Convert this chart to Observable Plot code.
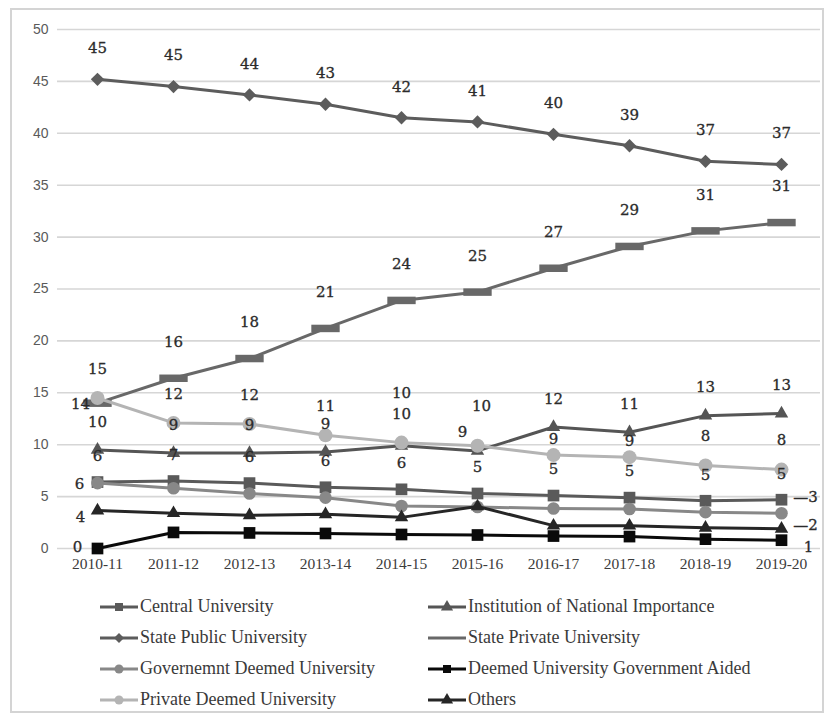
<!DOCTYPE html>
<html>
<head>
<meta charset="utf-8">
<script src="https://cdn.jsdelivr.net/npm/d3@7"></script>
<script src="https://cdn.jsdelivr.net/npm/@observablehq/plot@0.6"></script>
<style>
  body { margin: 0; background: #fff; }
  #chart { position: relative; width: 827px; height: 720px; overflow: hidden; }
  #frame { position: absolute; left: 10px; top: 8px; width: 814px; height: 705px;
           border: 2px solid #d4d4d4; box-sizing: border-box; pointer-events: none; }
  #plot { position: absolute; left: 0; top: 0; }
  #legend { position: absolute; left: 100px; top: 591px; display: grid;
            grid-template-columns: 328px 340px; grid-auto-rows: 31px; align-items: center;
            font-family: "Liberation Serif", "Times New Roman", serif; font-size: 18px; color: #3a3a3a; }
  .item { display: flex; align-items: center; white-space: nowrap; }
  .item svg { margin-right: 2px; }
</style>
</head>
<body>
<div id="chart">
  <div id="plot"></div>
  <div id="legend"></div>
  <div id="frame"></div>
</div>
<script>
// Academic years on the x axis
const years = ["2010-11", "2011-12", "2012-13", "2013-14", "2014-15",
               "2015-16", "2016-17", "2017-18", "2018-19", "2019-20"];

// Share of universities by type (per cent)
const centralUniversity       = [6.4, 6.5, 6.3, 5.9, 5.7, 5.3, 5.1, 4.9, 4.6, 4.7];
const nationalImportance      = [9.5, 9.2, 9.2, 9.3, 9.9, 9.4, 11.7, 11.2, 12.8, 13.0];
const statePublicUniversity   = [45.2, 44.5, 43.7, 42.8, 41.5, 41.1, 39.9, 38.8, 37.3, 37.0];
const statePrivateUniversity  = [14.0, 16.4, 18.3, 21.2, 23.9, 24.7, 27.0, 29.1, 30.6, 31.4];
const governmentDeemed        = [6.3, 5.8, 5.3, 4.9, 4.1, 4.0, 3.85, 3.8, 3.5, 3.4];
const deemedGovernmentAided   = [0, 1.55, 1.5, 1.45, 1.35, 1.3, 1.2, 1.15, 0.9, 0.8];
const privateDeemedUniversity = [14.5, 12.1, 12.0, 10.9, 10.2, 9.9, 9.0, 8.8, 8.0, 7.6];
const others                  = [3.65, 3.4, 3.2, 3.3, 3.0, 4.05, 2.2, 2.2, 2.0, 1.9];

const seriesNames = [
  "Central University", "Institution of National Importance",
  "State Public University", "State Private University",
  "Governemnt Deemed University", "Deemed University Government Aided",
  "Private Deemed University", "Others"
];
const seriesValues = [
  centralUniversity, nationalImportance, statePublicUniversity, statePrivateUniversity,
  governmentDeemed, deemedGovernmentAided, privateDeemedUniversity, others
];

const yTicks = [0, 5, 10, 15, 20, 25, 30, 35, 40, 45, 50];

// Wide flat marker used by the State Private series
const dashSymbol = {
  draw(context, size) {
    const w = Math.sqrt(size) * 1.25, h = Math.sqrt(size) * 0.33;
    context.moveTo(-w, -h); context.lineTo(w, -h); context.lineTo(w, h); context.lineTo(-w, h);
    context.closePath();
  }
};

// Look of each series: colour, marker and marker radius
const styles = {
  "Central University":                 {color: "#5a5a5a", symbol: "square",   r: 6.6},
  "Institution of National Importance": {color: "#555555", symbol: "triangle", r: 5},
  "State Public University":            {color: "#5c5c5c", symbol: "diamond2", r: 6},
  "State Private University":           {color: "#686868", symbol: dashSymbol, r: 6.4},
  "Governemnt Deemed University":       {color: "#888888", symbol: "circle",   r: 6.3},
  "Deemed University Government Aided": {color: "#0a0a0a", symbol: "square",   r: 6.6},
  "Private Deemed University":          {color: "#b4b4b4", symbol: "circle",   r: 7},
  "Others":                             {color: "#262626", symbol: "triangle", r: 5}
};

const rows = seriesNames.flatMap((name, s) =>
  seriesValues[s].map((value, i) => ({series: name, year: years[i], index: i, value})));
const bySeries = name => rows.filter(d => d.series === name);

const fmt = d3.format(".0f");
const labelFont = {fontFamily: "DejaVu Serif", fontSize: 15, fill: "#2b2b2b",
                   stroke: "#2b2b2b", strokeWidth: 0.3,
                   text: d => fmt(d.value), x: "year", y: "value"};
const label = (name, filter, opts) =>
  Plot.text(bySeries(name).filter(filter), {...labelFont, ...opts});

const seriesMarks = seriesNames.flatMap(name => {
  const st = styles[name];
  return [
    Plot.line(bySeries(name), {x: "year", y: "value", stroke: st.color, strokeWidth: 3,
                               strokeLinejoin: "round"}),
    Plot.dot(bySeries(name), {x: "year", y: "value", symbol: st.symbol, r: st.r,
                              fill: st.color, stroke: "none"})
  ];
});

const all = () => true;
const labelMarks = [
  label("State Public University", all, {dy: -31}),
  label("State Private University", d => d.index > 0, {dy: -36}),
  label("State Private University", d => d.index === 0, {dx: -17, dy: 1}),
  label("Private Deemed University", d => d.index !== 4 && d.index !== 5 && d.index !== 6 && d.index !== 7, {dy: -29}),
  label("Private Deemed University", d => d.index === 4, {dy: -28}),
  label("Private Deemed University", d => d.index === 5, {dx: 4, dy: -40}),
  label("Private Deemed University", d => d.index === 6 || d.index === 7, {dy: -16}),
  label("Institution of National Importance", d => d.index !== 4 && d.index !== 5, {dy: -28}),
  label("Institution of National Importance", d => d.index === 4, {dy: -53}),
  label("Institution of National Importance", d => d.index === 5, {dx: -15, dy: -19}),
  label("Central University", all, {dy: -26}),
  label("Governemnt Deemed University", d => d.index === 0, {dx: -18, dy: 1}),
  label("Governemnt Deemed University", d => d.index === 9, {dx: 24, dy: -16, text: d => "\u2014" + fmt(d.value)}),
  label("Others", d => d.index === 0, {dx: -17, dy: 7}),
  label("Others", d => d.index === 9, {dx: 24, dy: -4, text: d => "\u2014" + fmt(d.value)}),
  label("Deemed University Government Aided", d => d.index === 0, {dx: -20, dy: -1}),
  label("Deemed University Government Aided", d => d.index === 9, {dx: 27, dy: 7})
];

const plot = Plot.plot({
  width: 827,
  height: 590,
  marginLeft: 57,
  marginRight: 7,
  marginTop: 29,
  marginBottom: 42,
  style: {background: "transparent", fontFamily: "Liberation Serif, Times New Roman, serif"},
  x: {type: "point", domain: years, padding: 0.5},
  y: {domain: [0, 50]},
  marks: [
    Plot.ruleY(yTicks, {stroke: "#d6d6d6", strokeWidth: 1.6}),
    Plot.axisY({ticks: yTicks, tickSize: 0, tickPadding: 9, label: null,
                fontFamily: "Liberation Sans Narrow, Liberation Sans", fontSize: 14, fill: "#5a5a5a"}),
    Plot.axisX({tickSize: 0, tickPadding: 9, label: null,
                fontFamily: "Liberation Serif", fontSize: 15.5, fill: "#3c3c3c"}),
    ...seriesMarks,
    ...labelMarks
  ]
});
document.getElementById("plot").appendChild(plot);

// Legend below the plot, two columns
const legend = d3.select("#legend");
seriesNames.forEach(name => {
  const st = styles[name];
  const item = legend.append("div").attr("class", "item");
  const svg = item.append("svg").attr("width", 38).attr("height", 16);
  svg.append("line").attr("x1", 0).attr("x2", 38).attr("y1", 8).attr("y2", 8)
    .attr("stroke", st.color).attr("stroke-width", 3.2);
  const type = typeof st.symbol === "string"
    ? {square: d3.symbolSquare, triangle: d3.symbolTriangle, diamond2: d3.symbolDiamond2,
       circle: d3.symbolCircle}[st.symbol]
    : null;
  if (type) {
    svg.append("path").attr("transform", "translate(19,8)")
      .attr("d", d3.symbol(type, 64)()).attr("fill", st.color);
  }
  item.append("span").text(name);
});
</script>
</body>
</html>
